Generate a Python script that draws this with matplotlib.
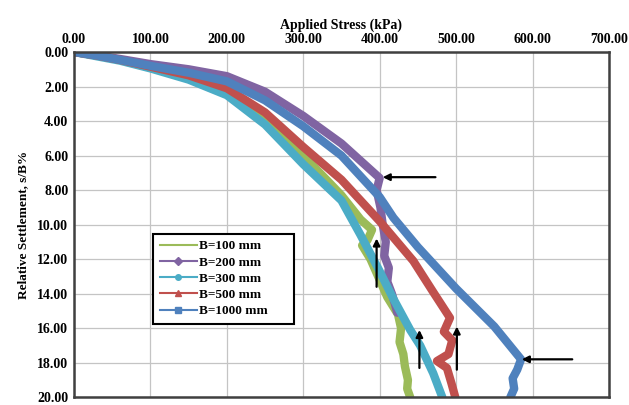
"""
Applied stress vs relative settlement for footings of different width
"""
import matplotlib
matplotlib.use('Agg')
import matplotlib.pyplot as plt
from matplotlib.lines import Line2D
from matplotlib.ticker import FormatStrFormatter

plt.rcParams['font.family'] = ['Liberation Serif', 'DejaVu Serif']
plt.rcParams['font.weight'] = 'bold'

# series data: (stress kPa, settlement s/B %)
labels = ['B=100 mm', 'B=200 mm', 'B=300 mm', 'B=500 mm', 'B=1000 mm']
colors = ['#9BBB59', '#8064A2', '#4BACC6', '#C0504D', '#4F81BD']
markers = ['', 'D', 'o', '^', 's']

stress_100 = [0, 30, 60, 100, 150, 200, 250, 300, 350, 375, 390, 384, 377,
              388, 398, 410, 424, 428, 426, 431, 433, 437, 436, 440]
settle_100 = [0, 0.2, 0.45, 0.9, 1.45, 2.4, 4.0, 6.0, 8.3, 9.7, 10.3, 10.9, 11.2,
              12.0, 13.0, 14.2, 15.2, 16.0, 16.8, 17.5, 18.2, 19.0, 19.5, 20.0]

stress_200 = [0, 30, 60, 100, 150, 200, 250, 300, 350, 380, 400, 396, 401,
              404, 408, 406, 412, 410, 416, 420, 423]
settle_200 = [0, 0.2, 0.4, 0.7, 1.0, 1.4, 2.3, 3.7, 5.3, 6.5, 7.3, 8.0, 9.0,
              10.0, 11.0, 11.8, 12.5, 13.3, 14.0, 14.6, 15.1]

stress_300 = [0, 30, 60, 100, 150, 200, 250, 300, 350, 375, 400, 418, 440,
              453, 470, 482]
settle_300 = [0, 0.25, 0.5, 0.95, 1.6, 2.5, 4.2, 6.5, 8.6, 10.6, 12.7, 14.3,
              16.1, 17.0, 18.6, 20.0]

stress_500 = [0, 30, 60, 100, 150, 200, 250, 300, 350, 400, 444, 470, 492,
              484, 495, 490, 475, 488, 494, 499]
settle_500 = [0, 0.2, 0.45, 0.85, 1.35, 2.1, 3.5, 5.5, 7.4, 9.8, 12.1, 13.9,
              15.4, 16.2, 16.7, 17.5, 17.9, 18.3, 19.2, 20.0]

stress_1000 = [0, 30, 60, 100, 150, 200, 250, 300, 350, 400, 418, 450, 500,
               550, 585, 580, 574, 576, 571]
settle_1000 = [0, 0.2, 0.45, 0.8, 1.2, 1.7, 2.8, 4.3, 6.0, 8.4, 9.6, 11.3,
               13.7, 15.9, 17.8, 18.4, 18.9, 19.5, 20.0]

stress = [stress_100, stress_200, stress_300, stress_500, stress_1000]
settle = [settle_100, settle_200, settle_300, settle_500, settle_1000]

# arrows: (head x, head y, tail x, tail y)
arrows = [(404, 7.25, 473, 7.25),
          (396, 10.8, 396, 13.6),
          (452, 16.1, 452, 18.3),
          (501, 15.9, 501, 18.4),
          (586, 17.8, 652, 17.8)]

fig = plt.figure(figsize=(6.29, 4.05), dpi=100)
ax = fig.add_axes([0.1176, 0.019, 0.8505, 0.8526])

for xs, ys, c in zip(stress, settle, colors):
    ax.plot(xs, ys, color=c, lw=6, solid_joinstyle='round',
            solid_capstyle='round')

for hx, hy, tx, ty in arrows:
    ax.annotate('', xy=(hx, hy), xytext=(tx, ty),
                arrowprops=dict(arrowstyle='-|>', color='black', lw=1.6,
                                mutation_scale=10, shrinkA=0, shrinkB=0))

ax.set_xlim(0, 700)
ax.set_ylim(20, 0)
ax.set_xticks(range(0, 701, 100))
ax.set_yticks(range(0, 21, 2))
ax.xaxis.set_major_formatter(FormatStrFormatter('%.2f'))
ax.yaxis.set_major_formatter(FormatStrFormatter('%.2f'))
ax.xaxis.tick_top()
ax.xaxis.set_label_position('top')
ax.tick_params(length=0, labelsize=10, pad=4)
ax.grid(True, color='#C4C4C4', lw=0.9)
ax.set_axisbelow(True)
for s in ax.spines.values():
    s.set_color('#404040')
    s.set_linewidth(1.8)

ax.set_xlabel('Applied Stress (kPa)', fontsize=10, fontweight='bold', labelpad=3)
ax.set_ylabel('Relative Settlement, s/B%', fontsize=9.5, fontweight='bold',
              labelpad=6)

handles = [Line2D([], [], color=c, marker=m, markersize=4, lw=1.5)
           for c, m in zip(colors, markers)]
leg = ax.legend(handles, labels, loc='upper left', mode='expand',
                bbox_to_anchor=(0.148, 0.218, 0.263, 0.256), fontsize=9.5,
                fancybox=False, framealpha=1, edgecolor='black',
                handlelength=2.8, handletextpad=0.2, borderpad=0.5,
                labelspacing=0.3, borderaxespad=0)
leg.get_frame().set_linewidth(1.5)
leg._legend_box.align = 'center'

fig.savefig('out.png', dpi=100)
plt.close(fig)
